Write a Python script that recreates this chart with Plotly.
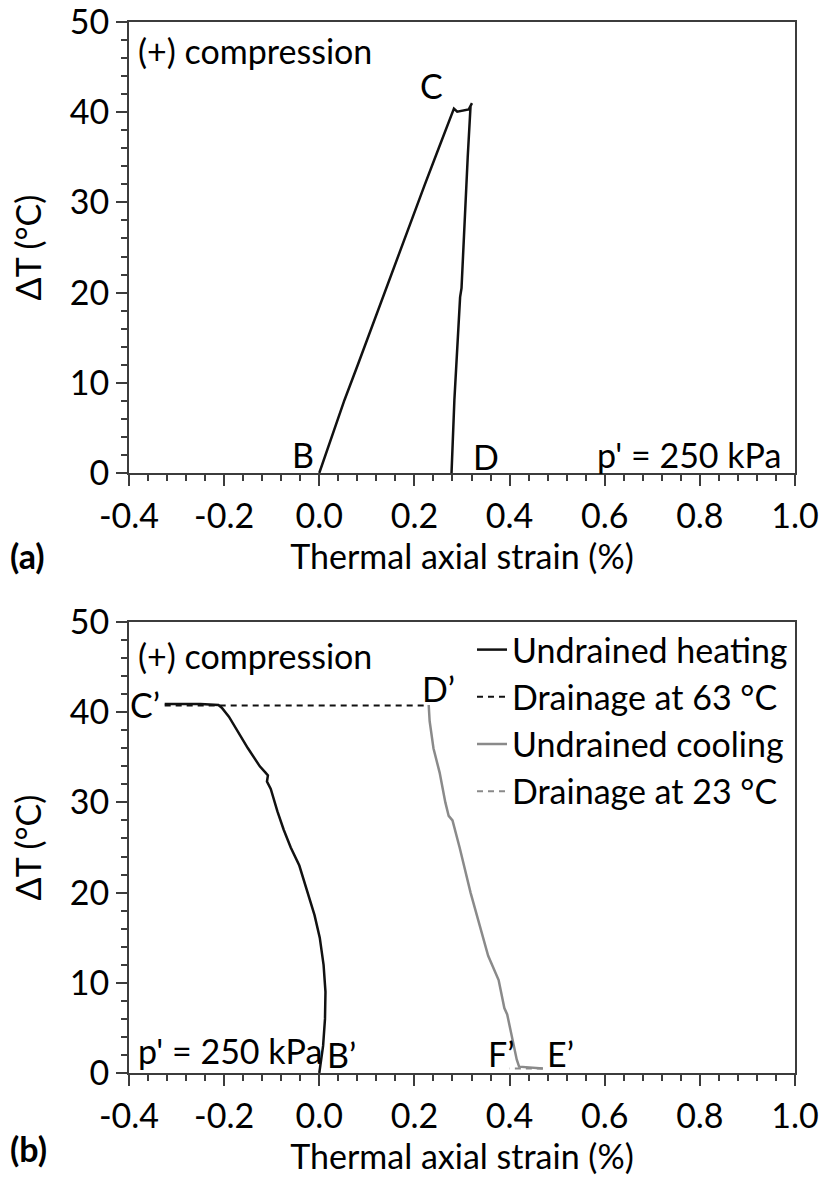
import plotly.graph_objects as go

# ---- data ----
# (a) path B -> C -> D
a_strain = [0.000, 0.027, 0.053, 0.081, 0.109, 0.138, 0.166, 0.194, 0.222, 0.251, 0.283,
            0.290, 0.314, 0.321, 0.318, 0.312, 0.307, 0.301, 0.299, 0.296, 0.289, 0.284, 0.278]
a_dT = [0, 4, 8.1, 12, 16, 20, 24, 28, 32, 36, 40.4,
        40.05, 40.3, 41.0, 40.7, 35, 30, 24, 20.5, 19.5, 13, 8.1, 0]

# (b) undrained heating B' -> C'
heat_strain = [0.000, 0.008, 0.012, 0.013, 0.009, 0.001, -0.010, -0.024, -0.042, -0.060,
               -0.075, -0.088, -0.102, -0.110, -0.108, -0.113, -0.125, -0.150, -0.172,
               -0.190, -0.205, -0.212, -0.250, -0.325]
heat_dT = [0, 3, 6, 9, 12, 15, 17.5, 20, 23, 25, 27, 29, 31.5, 32.3, 33.0, 33.3, 34, 36,
           38, 39.5, 40.5, 40.8, 40.9, 40.9]
# (b) drainage at 63 °C C' -> D'
drain63_strain = [-0.325, 0.230]
drain63_dT = [40.75, 40.75]
# (b) undrained cooling D' -> E'
cool_strain = [0.230, 0.232, 0.240, 0.253, 0.265, 0.272, 0.280, 0.295, 0.318, 0.345, 0.355,
               0.377, 0.389, 0.395, 0.405, 0.415, 0.420, 0.440, 0.470]
cool_dT = [40.8, 39, 36, 33.3, 30, 28.5, 28, 25, 20, 15, 13, 10.3, 7.2, 6.5, 4, 1.5, 0.7,
           0.6, 0.5]
# (b) drainage at 23 °C E' -> F'
drain23_strain = [0.470, 0.400]
drain23_dT = [0.5, 0.5]

x_ticks = [-0.4, -0.2, 0.0, 0.2, 0.4, 0.6, 0.8, 1.0]
x_ticktext = ["-0.4", "-0.2", "0.0", "0.2", "0.4", "0.6", "0.8", "1.0"]

FONT = "Lato"
FS = 34
AXC = "#3c3c3c"
BLACK = "#111111"
GREY = "#8a8a8a"

fig = go.Figure()

fig.add_trace(go.Scatter(x=a_strain, y=a_dT, mode="lines", xaxis="x", yaxis="y",
                         line=dict(color=BLACK, width=2.5), showlegend=False))

fig.add_trace(go.Scatter(x=heat_strain, y=heat_dT, mode="lines", xaxis="x2", yaxis="y2",
                         name="Undrained heating", legendgroup="g1",
                         line=dict(color=BLACK, width=2.5)))
fig.add_trace(go.Scatter(x=drain63_strain, y=drain63_dT, mode="lines", xaxis="x2", yaxis="y2",
                         name="Drainage at 63 °C", legendgroup="g2",
                         line=dict(color=BLACK, width=2, dash="6px,5px")))
fig.add_trace(go.Scatter(x=cool_strain, y=cool_dT, mode="lines", xaxis="x2", yaxis="y2",
                         name="Undrained cooling", legendgroup="g3",
                         line=dict(color=GREY, width=2.5)))
fig.add_trace(go.Scatter(x=drain23_strain, y=drain23_dT, mode="lines", xaxis="x2", yaxis="y2",
                         name="Drainage at 23 °C", legendgroup="g4",
                         line=dict(color=GREY, width=2, dash="6px,5px")))

W, H = 824, 1178
ML, MR, MT, MB = 129, 29, 22, 105
PW = W - ML - MR
PH = H - MT - MB


def ydom(top_px, bot_px):
    return [1 - (bot_px - MT) / PH, 1 - (top_px - MT) / PH]


def px_x(px):
    return (px - ML) / PW


def px_y(py):
    return 1 - (py - MT) / PH


def xaxis_cfg(anchor):
    return dict(domain=[0, 1], anchor=anchor, range=[-0.4, 1.0], tickvals=x_ticks,
                ticktext=x_ticktext, ticks="outside", ticklen=11, tickwidth=2,
                tickcolor=AXC, showline=True, linecolor=AXC, linewidth=2, mirror=True,
                showgrid=False, zeroline=False, automargin=False,
                ticklabelstandoff=1, ticklabeloverflow="allow",
                minor=dict(dtick=0.04, tick0=0, ticks="outside", ticklen=6,
                           tickwidth=2, tickcolor=AXC, showgrid=False),
                tickfont=dict(family=FONT, size=FS, color="#000"),
                title=dict(text="Thermal axial strain (%)", standoff=0,
                           font=dict(family=FONT, size=FS, color="#000")))


def yaxis_cfg(anchor, dom):
    return dict(domain=dom, anchor=anchor, range=[0, 50], dtick=10, ticks="outside",
                ticklen=11, tickwidth=2, tickcolor=AXC, showline=True, linecolor=AXC,
                linewidth=2, mirror=True, showgrid=False, zeroline=False, automargin=False,
                ticklabeloverflow="allow",
                minor=dict(dtick=2, ticks="outside", ticklen=6, tickwidth=2,
                           tickcolor=AXC, showgrid=False),
                tickfont=dict(family=FONT, size=FS, color="#000"),
                title=dict(text="ΔT (°C)", standoff=18,
                           font=dict(family=FONT, size=FS, color="#000")))


fig.update_layout(
    width=W, height=H, margin=dict(l=ML, r=MR, t=MT, b=MB, autoexpand=False),
    paper_bgcolor="white", plot_bgcolor="white",
    font=dict(family=FONT, size=FS, color="#000"),
    xaxis=xaxis_cfg("y"),
    yaxis=yaxis_cfg("x", ydom(22, 473)),
    xaxis2=xaxis_cfg("y2"),
    yaxis2=yaxis_cfg("x2", ydom(622, 1073)),
    legend=dict(x=px_x(472), y=px_y(621), xanchor="left",
                yanchor="top", bgcolor="rgba(0,0,0,0)", borderwidth=0, tracegroupgap=0,
                traceorder="grouped", itemwidth=30,
                font=dict(family=FONT, size=FS, color="#000")),
)

ann = [
    # panel (a)
    dict(x=-0.385, y=46.8, xref="x", yref="y", text="(+) compression", xanchor="left"),
    dict(x=0.235, y=43.0, xref="x", yref="y", text="C"),
    dict(x=-0.035, y=2.0, xref="x", yref="y", text="B"),
    dict(x=0.318, y=1.8, xref="x", yref="y", text="D", xanchor="left"),
    dict(x=0.975, y=2.0, xref="x", yref="y", text="p' = 250 kPa", xanchor="right"),
    # panel (b)
    dict(x=-0.385, y=46.3, xref="x2", yref="y2", text="(+) compression", xanchor="left"),
    dict(x=-0.33, y=40.8, xref="x2", yref="y2", text="C’", xanchor="right"),
    dict(x=0.25, y=42.6, xref="x2", yref="y2", text="D’"),
    dict(x=0.012, y=2.0, xref="x2", yref="y2", text="B’", xanchor="left"),
    dict(x=-0.385, y=2.5, xref="x2", yref="y2", text="p' = 250 kPa", xanchor="left"),
    dict(x=0.383, y=2.2, xref="x2", yref="y2", text="F’"),
    dict(x=0.508, y=2.2, xref="x2", yref="y2", text="E’"),
    # panel letters
    dict(x=px_x(8), y=px_y(555), xref="paper", yref="paper", text="<b>(a)</b>",
         xanchor="left", yanchor="middle"),
    dict(x=px_x(8), y=px_y(1148), xref="paper", yref="paper", text="<b>(b)</b>",
         xanchor="left", yanchor="middle"),
]
for a in ann:
    a.setdefault("showarrow", False)
    a.setdefault("font", dict(family=FONT, size=FS, color="#000"))
fig.update_layout(annotations=ann)

fig.write_html("out.html")
